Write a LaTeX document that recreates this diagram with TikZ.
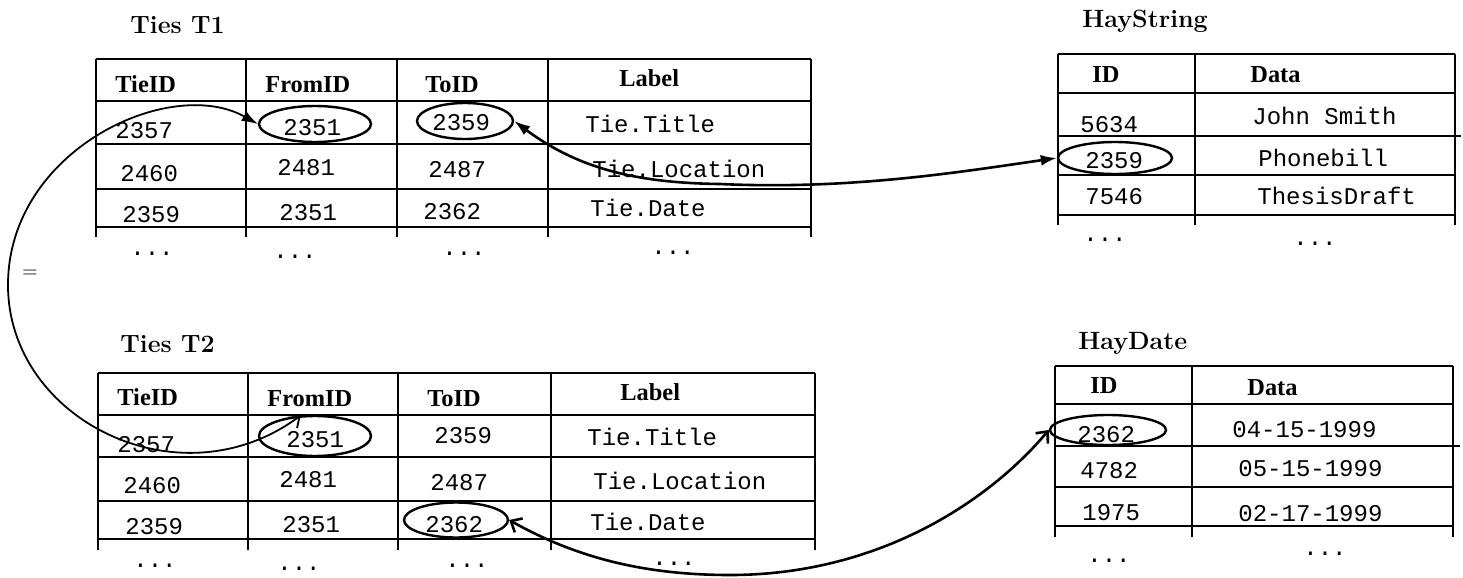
\documentclass[tikz,border=0pt]{standalone}
\usepackage{fontspec}
\newfontfamily\hdrfont{Liberation Serif}
\newfontfamily\courfont{Liberation Mono}
\usetikzlibrary{shapes.geometric,arrows.meta}
\tikzset{ftip/.tip={Latex[length=8pt,width=5.5pt]},
  otip/.tip={Straight Barb[length=4.5pt,width=8pt]}}
\begin{document}
\begin{tikzpicture}[x=0.5pt,y=-0.5pt,
  ttl/.style={anchor=base west,inner sep=0pt,font=\fontsize{12.5}{14}\selectfont\bfseries},
  hdr/.style={anchor=base west,inner sep=0pt,font=\hdrfont\fontsize{12.2}{14}\selectfont\bfseries},
  cell/.style={anchor=base west,inner sep=0pt,font=\courfont\fontsize{12}{14}\selectfont},
  tbl/.style={line width=1.3pt},
  circ/.style={draw,ellipse,line width=1.2pt,inner sep=0pt},
  conn/.style={line width=1.3pt},
  bigc/.style={line width=0.9pt}]
\useasboundingbox (0,0) rectangle (1463,578);

% titles
\node[ttl] (t1title) at (130,33) {Ties T1};
\node[ttl] (hstitle) at (1082,27) {HayString};
\node[ttl] (t2title) at (120,352) {Ties T2};
\node[ttl] (hdtitle) at (1078,349) {HayDate};

% grids
\foreach \y in {59,101,144,189,227} \draw[tbl] (96,\y) -- (811,\y);
\foreach \x in {96,246,397,548,811} \draw[tbl] (\x,59) -- (\x,237);
\foreach \y in {373,415,457,501,539} \draw[tbl] (98,\y) -- (815,\y);
\foreach \x in {98,248,398,551,815} \draw[tbl] (\x,373) -- (\x,550);
\foreach \y in {54,93,175,215} \draw[tbl] (1058,\y) -- (1455,\y);
\draw[tbl] (1058,136) -- (1461,136);
\foreach \x in {1058,1195,1455} \draw[tbl] (\x,54) -- (\x,225);
\foreach \y in {366,404,487,526} \draw[tbl] (1055,\y) -- (1453,\y);
\draw[tbl] (1055,446) -- (1460,446);
\foreach \x in {1055,1192,1453} \draw[tbl] (\x,366) -- (\x,537);

% Ties T1
\node[hdr] (t1h1) at (115,92) {TieID};
\node[hdr] (t1h2) at (265,92) {FromID};
\node[hdr] (t1h3) at (425,92) {ToID};
\node[hdr] (t1h4) at (619,86) {Label};
\node[cell] (t1a1) at (115,138) {2357};
\node[cell] (t1a2) at (283,135) {2351};
\node[cell] (t1a3) at (432,130) {2359};
\node[cell] (t1a4) at (585,132) {Tie.Title};
\node[cell] (t1b1) at (120,181) {2460};
\node[cell] (t1b2) at (277,175) {2481};
\node[cell] (t1b3) at (428,177) {2487};
\node[cell] (t1b4) at (592,177) {Tie.Location};
\node[cell] (t1c1) at (122,222) {2359};
\node[cell] (t1c2) at (279,220) {2351};
\node[cell] (t1c3) at (423,219) {2362};
\node[cell] (t1c4) at (590,216) {Tie.Date};
\node[cell] (t1d1) at (130,255) {...};
\node[cell] (t1d2) at (273,258) {...};
\node[cell] (t1d3) at (442,255) {...};
\node[cell] (t1d4) at (651,254) {...};

% HayString
\node[hdr] (hsh1) at (1092,82) {ID};
\node[hdr] (hsh2) at (1250,83) {Data};
\node[cell] (hsa1) at (1080,132) {5634};
\node[cell] (hsa2) at (1252,124) {John Smith};
\node[cell] (hsb1) at (1085,168) {2359};
\node[cell] (hsb2) at (1258,166) {Phonebill};
\node[cell] (hsc1) at (1085,204) {7546};
\node[cell] (hsc2) at (1257,204) {ThesisDraft};
\node[cell] (hsd1) at (1083,241) {...};
\node[cell] (hsd2) at (1293,245) {...};

% Ties T2
\node[hdr] (t2h1) at (117,405) {TieID};
\node[hdr] (t2h2) at (267,406) {FromID};
\node[hdr] (t2h3) at (427,406) {ToID};
\node[hdr] (t2h4) at (620,400) {Label};
\node[cell] (t2a1) at (117,452) {2357};
\node[cell] (t2a2) at (286,447) {2351};
\node[cell] (t2a3) at (434,443) {2359};
\node[cell] (t2a4) at (587,445) {Tie.Title};
\node[cell] (t2b1) at (123,493) {2460};
\node[cell] (t2b2) at (279,487) {2481};
\node[cell] (t2b3) at (430,490) {2487};
\node[cell] (t2b4) at (593,489) {Tie.Location};
\node[cell] (t2c1) at (125,534) {2359};
\node[cell] (t2c2) at (282,532) {2351};
\node[cell] (t2c3) at (425,532) {2362};
\node[cell] (t2c4) at (590,530) {Tie.Date};
\node[cell] (t2d1) at (133,567) {...};
\node[cell] (t2d2) at (277,570) {...};
\node[cell] (t2d3) at (445,567) {...};
\node[cell] (t2d4) at (652,565) {...};

% HayDate
\node[hdr] (hdh1) at (1090,393) {ID};
\node[hdr] (hdh2) at (1247,395) {Data};
\node[cell] (hda1) at (1077,442) {2362};
\node[cell] (hda2) at (1232,437) {04-15-1999};
\node[cell] (hdb1) at (1080,478) {4782};
\node[cell] (hdb2) at (1238,476) {05-15-1999};
\node[cell] (hdc1) at (1082,520) {1975};
\node[cell] (hdc2) at (1238,521) {02-17-1999};
\node[cell] (hdd1) at (1087,562) {...};
\node[cell] (hdd2) at (1303,555) {...};

% equals sign
\node[inner sep=0pt,font=\fontsize{10}{11}\selectfont] (eq) at (30,274) {=};

% ellipses
\node[circ,minimum width=56pt,minimum height=18pt] (e1from) at (315,124) {};
\node[circ,minimum width=48pt,minimum height=18pt] (e1to) at (465,121) {};
\node[circ,minimum width=57pt,minimum height=16pt] (ehs) at (1115,158) {};
\node[circ,minimum width=56pt,minimum height=20pt] (e2from) at (315,436) {};
\node[circ,minimum width=52pt,minimum height=17.5pt] (e2to) at (456,520) {};
\node[circ,minimum width=58pt,minimum height=15pt] (ehd) at (1108,430) {};

% connectors
\coordinate (bend) at (8,285);
\draw[bigc,ftip-otip] (e1from.west) .. controls (170,75) and (8,150) .. (bend)
  .. controls (8,420) and (180,505) .. (e2from.125);
\draw[conn,ftip-ftip] (e1to.east) .. controls (580,170) and (640,183) .. (720,184)
  .. controls (850,190) and (960,172) .. (ehs.west);
\draw[conn,otip-otip] (e2to.east) .. controls (580,560) and (650,575) .. (730,575)
  .. controls (880,575) and (990,500) .. (ehd.west);
\end{tikzpicture}
\end{document}
